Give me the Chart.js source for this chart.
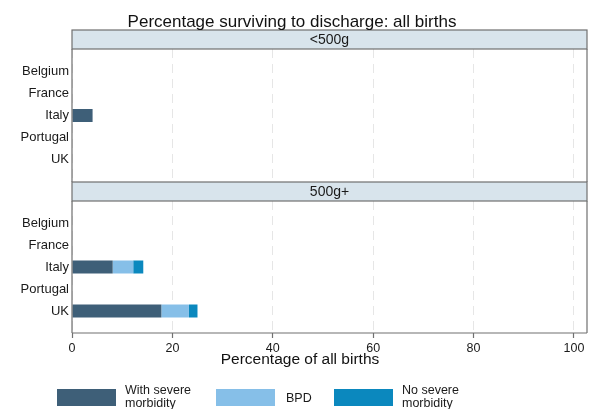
<!DOCTYPE html>
<html>
<head>
<meta charset="utf-8">
<script src="https://cdn.jsdelivr.net/npm/chart.js@4"></script>
<style>
  html, body { margin: 0; padding: 0; background: #ffffff; }
  #wrap { position: relative; width: 589px; height: 409px; }
  #wrap canvas { position: absolute; left: 0; top: 0; }
</style>
</head>
<body>
<div id="wrap">
  <canvas id="panelA" width="589" height="409"></canvas>
  <canvas id="panelB" width="589" height="409"></canvas>
</div>
<script>
// Countries on the vertical axis (top to bottom)
const countries = ['Belgium', 'France', 'Italy', 'Portugal', 'UK'];

// Percentage of all births surviving to discharge, by outcome
// Panel "<500g"
const under500Severe = [0, 0, 4.1, 0, 0];
const under500BPD    = [0, 0, 0, 0, 0];
const under500None   = [0, 0, 0, 0, 0];
// Panel "500g+"
const over500Severe = [0, 0, 8.1, 0, 17.8];
const over500BPD    = [0, 0, 4.1, 0, 5.5];
const over500None   = [0, 0, 2.0, 0, 1.7];

const panelTitles = ['<500g', '500g+'];
const seriesNames = ['With severe morbidity', 'BPD', 'No severe morbidity'];
const legendLines = [['With severe', 'morbidity'], ['BPD'], ['No severe', 'morbidity']];
const xTicks = [0, 20, 40, 60, 80, 100];

const colors = ['#3e5f78', '#86bfe8', '#0b88be'];
const FONT = '"Liberation Sans", Arial, Helvetica, sans-serif';

function buildDatasets(severe, bpd, none) {
  return [severe, bpd, none].map((vals, k) => ({
    label: seriesNames[k],
    data: vals.map((v, i) => ({ x: v, y: i + 1 })),
    backgroundColor: colors[k],
    borderWidth: 0,
    inflateAmount: 0,
    barThickness: 13
  }));
}

// Header strip, frame and extra text around each panel
const panelDecor = {
  id: 'panelDecor',
  afterDraw(chart, args, opts) {
    const ctx = chart.ctx;
    const ca = chart.chartArea;
    const stripH = 19;
    ctx.save();
    // strip
    ctx.fillStyle = '#d8e4ec';
    ctx.fillRect(ca.left, ca.top - stripH, ca.right - ca.left, stripH);
    ctx.strokeStyle = '#707070';
    ctx.lineWidth = 1.2;
    ctx.strokeRect(ca.left, ca.top - stripH, ca.right - ca.left, stripH);
    ctx.fillStyle = '#1a1a1a';
    ctx.font = '14px ' + FONT;
    ctx.textAlign = 'center';
    ctx.textBaseline = 'middle';
    ctx.fillText(opts.header, (ca.left + ca.right) / 2, ca.top - stripH / 2 + 0.5);
    // frame
    ctx.beginPath();
    ctx.moveTo(ca.left, ca.top);
    ctx.lineTo(ca.left, ca.bottom);
    ctx.moveTo(ca.right, ca.top);
    ctx.lineTo(ca.right, ca.bottom);
    if (opts.bottomLine) {
      ctx.moveTo(ca.left, ca.bottom);
      ctx.lineTo(ca.right, ca.bottom);
    }
    ctx.stroke();

    if (opts.mainTitle) {
      ctx.font = '17px ' + FONT;
      ctx.textBaseline = 'alphabetic';
      ctx.fillStyle = '#111';
      ctx.fillText(opts.mainTitle, 292, 27);
    }
    if (opts.xTitle) {
      ctx.font = '15.5px ' + FONT;
      ctx.textBaseline = 'alphabetic';
      ctx.fillStyle = '#111';
      ctx.fillText(opts.xTitle, 300, 364);
    }
    if (opts.legend) {
      const swX = [57, 216, 334];
      const txX = [125, 286, 402];
      ctx.font = '12.5px ' + FONT;
      ctx.textAlign = 'left';
      ctx.textBaseline = 'alphabetic';
      chart.data.datasets.forEach((ds, k) => {
        ctx.fillStyle = ds.backgroundColor;
        ctx.fillRect(swX[k], 389, 59, 17);
        ctx.fillStyle = '#1a1a1a';
        const lines = legendLines[k];
        if (lines.length === 1) {
          ctx.fillText(lines[0], txX[k], 402);
        } else {
          ctx.fillText(lines[0], txX[k], 394);
          ctx.fillText(lines[1], txX[k], 407);
        }
      });
    }
    ctx.restore();
  }
};

function buildOptions(padTop, xHeight, padBottom, showX, decor) {
  return {
    animation: false,
    responsive: false,
    indexAxis: 'y',
    layout: { padding: { top: padTop, bottom: padBottom, left: 0, right: 2 } },
    plugins: {
      legend: { display: false },
      tooltip: { enabled: false },
      panelDecor: decor
    },
    scales: {
      x: {
        type: 'linear',
        stacked: true,
        min: 0,
        max: 102.6,
        afterBuildTicks: s => { s.ticks = xTicks.map(v => ({ value: v })); },
        afterFit: s => { s.height = xHeight; },
        ticks: {
          display: showX,
          font: { family: FONT, size: 12.5 },
          color: '#1a1a1a',
          padding: 3,
          maxRotation: 0,
          autoSkip: false
        },
        grid: {
          color: '#e6e6e6',
          lineWidth: 1,
          drawTicks: showX,
          tickLength: 5,
          tickColor: '#707070',
          tickWidth: 1.2
        },
        border: { display: false, dash: [9, 6] }
      },
      y: {
        type: 'linear',
        stacked: true,
        reverse: true,
        offset: false,
        min: 0,
        max: 6,
        afterBuildTicks: s => { s.ticks = countries.map((c, i) => ({ value: i + 1 })); },
        afterFit: s => { s.width = 72; },
        ticks: {
          autoSkip: false,
          callback: v => countries[v - 1],
          font: { family: FONT, size: 13 },
          color: '#1a1a1a',
          padding: 3
        },
        grid: { display: false, drawTicks: false },
        border: { display: false }
      }
    }
  };
}

new Chart(document.getElementById('panelA'), {
  type: 'bar',
  data: { datasets: buildDatasets(under500Severe, under500BPD, under500None) },
  options: buildOptions(49, 0, 227, false, {
    header: panelTitles[0],
    bottomLine: false,
    mainTitle: 'Percentage surviving to discharge: all births'
  }),
  plugins: [panelDecor]
});

new Chart(document.getElementById('panelB'), {
  type: 'bar',
  data: { datasets: buildDatasets(over500Severe, over500BPD, over500None) },
  options: buildOptions(201, 76, 0, true, {
    header: panelTitles[1],
    bottomLine: true,
    xTitle: 'Percentage of all births',
    legend: true
  }),
  plugins: [panelDecor]
});
</script>
</body>
</html>
